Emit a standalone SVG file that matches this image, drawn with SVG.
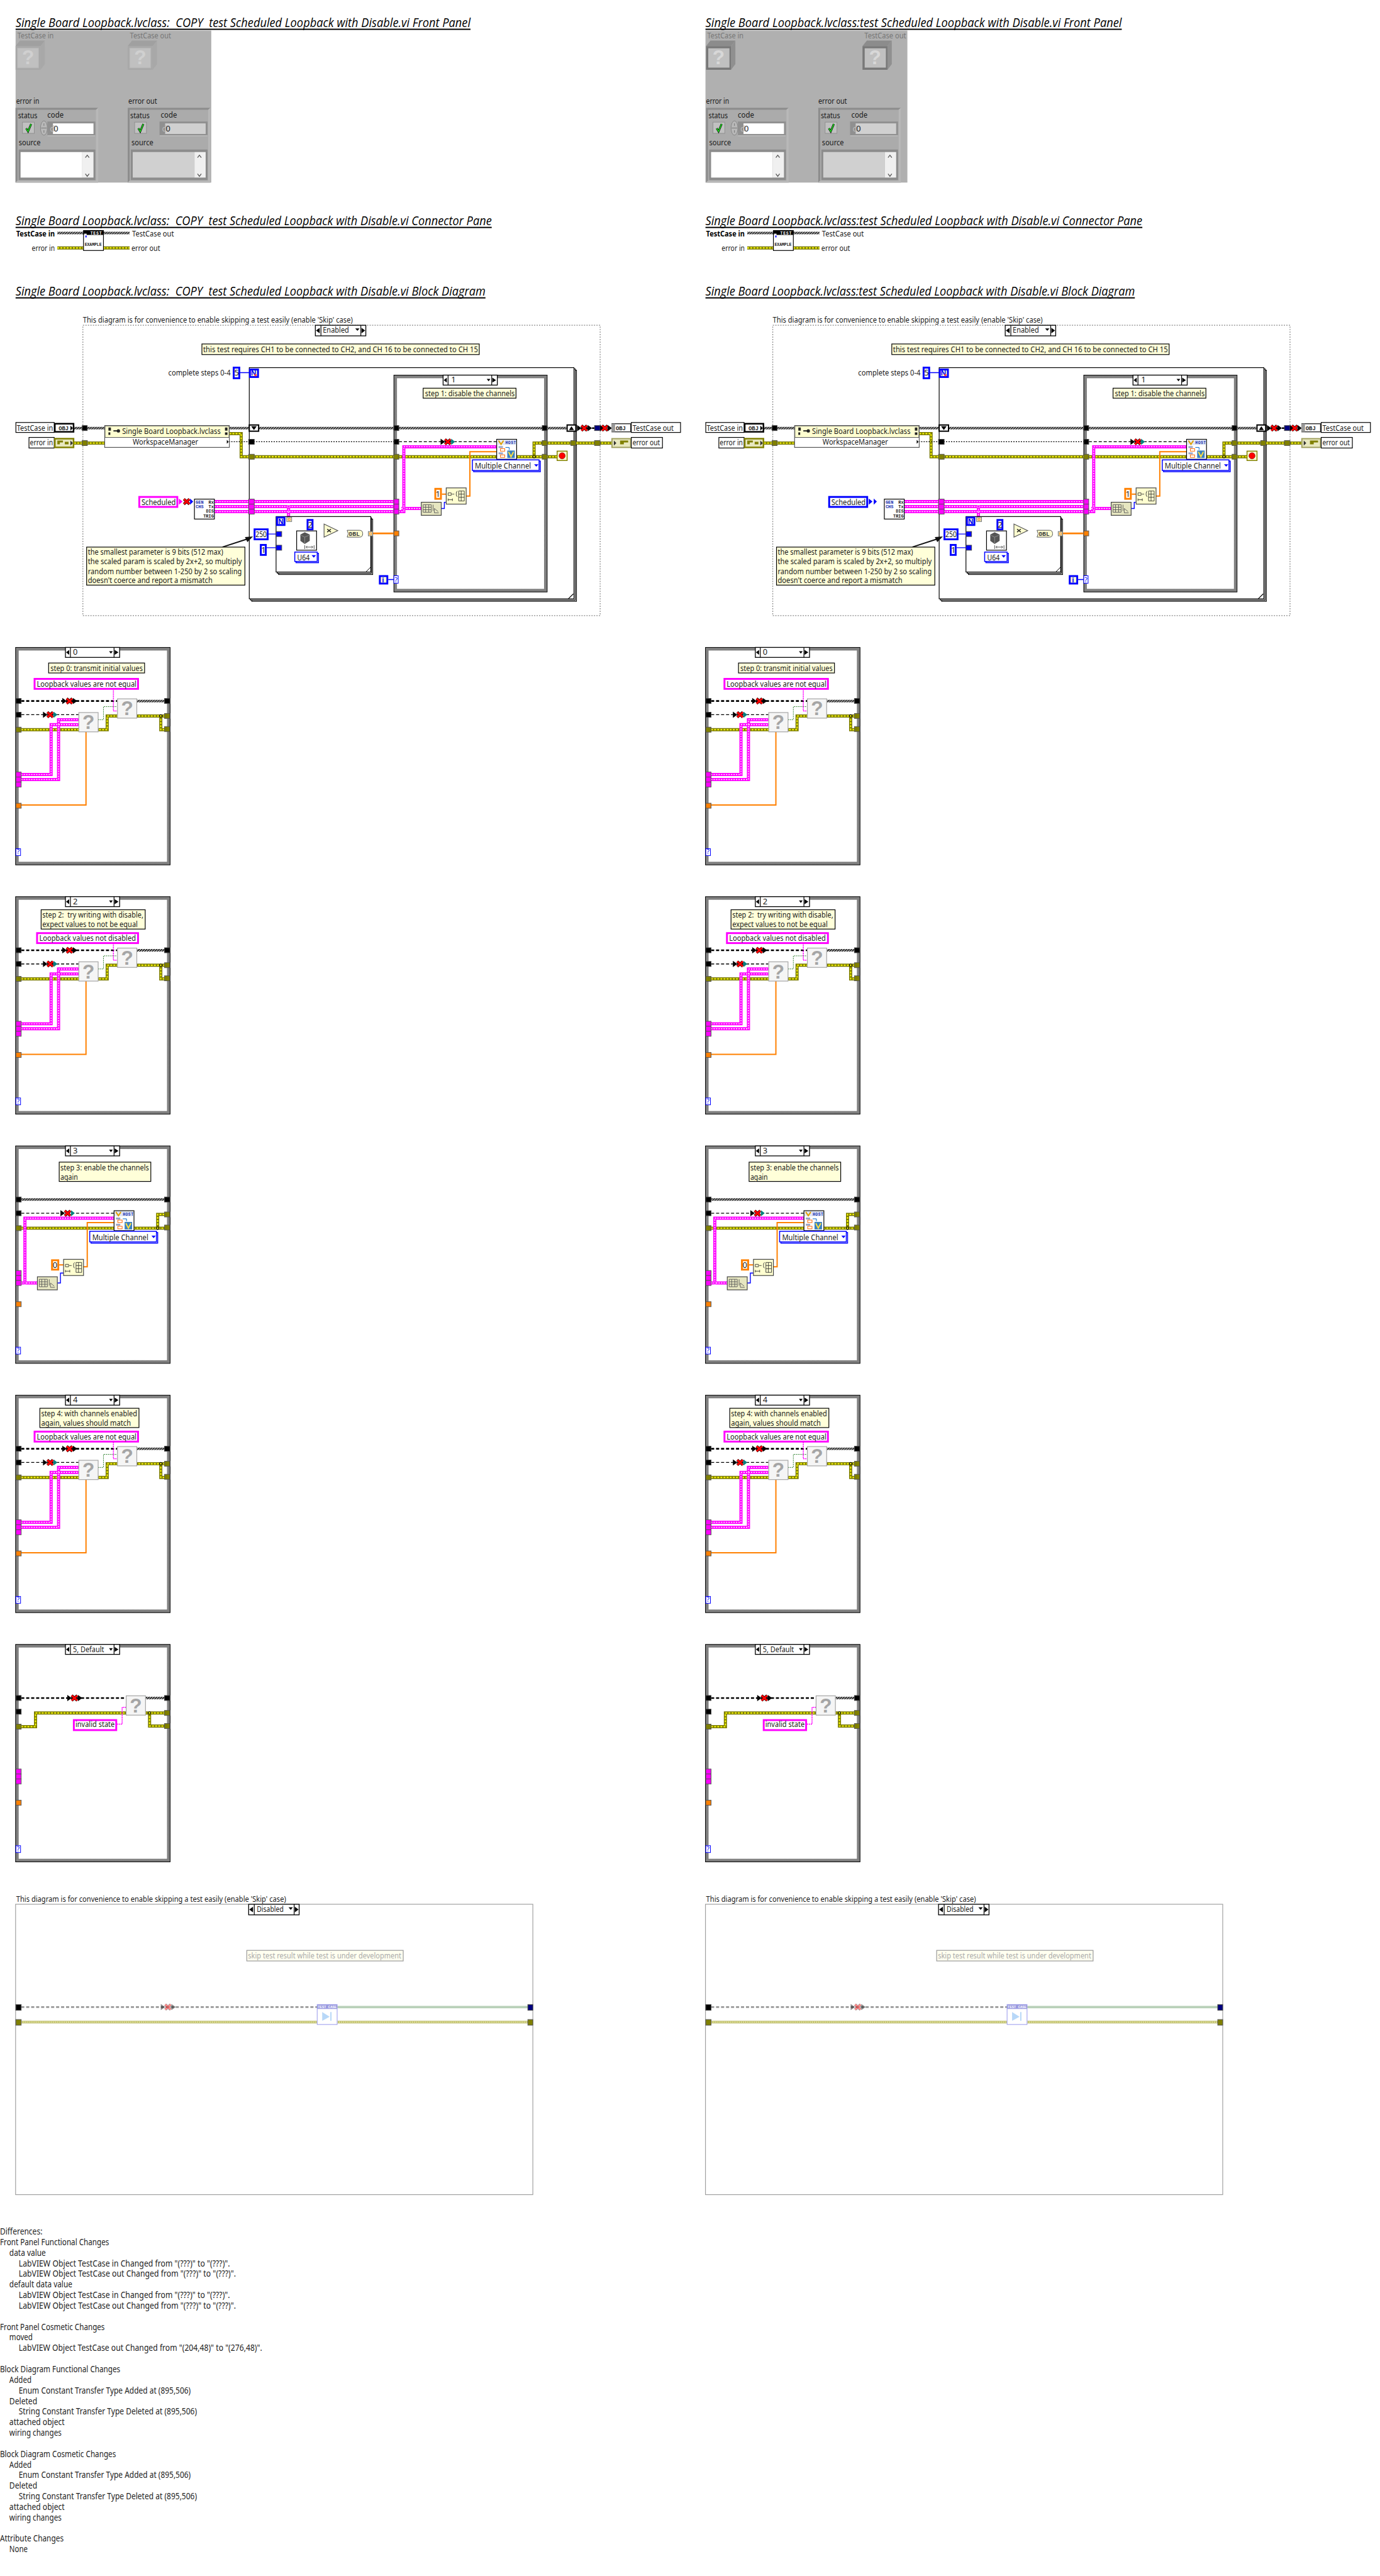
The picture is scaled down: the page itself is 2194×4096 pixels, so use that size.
<svg xmlns="http://www.w3.org/2000/svg" width="2194" height="4096" viewBox="0 0 2194 4096">
<style>
text{font-family:"Noto Sans","Open Sans","Liberation Sans",sans-serif;font-size:13px;fill:#1a1a1a;white-space:pre}
.ti{font-family:"Open Sans","Noto Sans",sans-serif;font-size:20px;font-style:italic;fill:#000}
.d{font-size:14px;fill:#222}
.gl{fill:#777}
.b{font-weight:bold;fill:#000}
.m{font-family:"Liberation Mono",monospace;font-weight:bold;font-size:7px}
.mb{fill:#1a2fb0}
.mw{fill:#fff}
.qm{font-family:"Liberation Sans",sans-serif;font-weight:bold;font-size:32px;fill:#a5a5a5;text-anchor:middle}
path,line{fill:none}
.eo{stroke:#7a7a00;stroke-width:5}
.ei{stroke:#ffff00;stroke-width:2;stroke-dasharray:3 2}
.po{stroke:#ff00ff;stroke-width:5}
.pi{stroke:#fff;stroke-width:1.4;stroke-dasharray:2 2}
.hw{stroke:url(#hatch);stroke-width:4}
.hd{stroke:#000;stroke-width:2.6;stroke-dasharray:5 3}
.rd{stroke:#000;stroke-width:1.3;stroke-dasharray:5 3}
.rt{stroke:#000;stroke-width:1.3;stroke-dasharray:2 2}
.o2{stroke:#ff8000;stroke-width:2}
.o3{stroke:#ff8000;stroke-width:3}
.bl{stroke:#0000ff;stroke-width:1.4}
.s1{stroke:#ff00ff;stroke-width:1.6;stroke-dasharray:2 1}
.g1{stroke:#006400;stroke-width:1;stroke-dasharray:1.5 1.5}
.tk{fill:#000;stroke:#444}
.tol{fill:#808000;stroke:#555}
.tp{fill:#ff00ff;stroke:#555}
.to{fill:#ff8000;stroke:#555}
.tb{fill:#0000ff;stroke:#444}
.tn{fill:#000080;stroke:#444}
.note{fill:#ffffd9;stroke:#000;stroke-width:1.2}
.cb{fill:#fff;stroke:#0000ff;stroke-width:3}
.cp{fill:#fff;stroke:#ff00ff;stroke-width:3}
.cr{fill:#fff;stroke:#ff8000;stroke-width:3}
.en{fill:#fff;stroke:#0000ff;stroke-width:1.5}
.lab{fill:#fff;stroke:#000;stroke-width:1.2}
.sel{fill:#fff;stroke:#000;stroke-width:1.3}
.dv{stroke:#000;stroke-width:1.2}
.k{fill:#000}
.n{fill:#ffffd0;stroke:#444;stroke-width:1.2}
</style>
<defs>
<pattern id="chk" width="2" height="2" patternUnits="userSpaceOnUse"><rect width="2" height="2" fill="#fff"/><rect width="1" height="1" fill="#000"/><rect x="1" y="1" width="1" height="1" fill="#000"/></pattern>
<pattern id="hatch" width="4" height="4" patternUnits="userSpaceOnUse"><rect width="4" height="4" fill="#fff"/><path d="M-1 5L5 -1M-1 1L1 -1M3 5L5 3" style="stroke:#000;stroke-width:1.7"/></pattern>

<g id="ar"><path class="k" d="M0 -5L7 0L0 5Z" style="fill:#000"/></g>
<g id="rx"><path d="M0 -4L9 4M9 -4L0 4" style="stroke:#300;stroke-width:4.4"/><path d="M0 -4L9 4M9 -4L0 4" style="stroke:#f00;stroke-width:2.8"/></g>
<g id="co-bb"><use href="#ar"/><use href="#rx" x="7"/><use href="#ar" x="17"/></g>
<g id="co-bt"><use href="#ar"/><use href="#rx" x="7"/><path d="M17 -5L23 0L17 5Z" style="fill:#008080"/></g>

<g id="sel"><rect class="sel" width="87" height="16"/><path class="dv" d="M8 0V16M78 0V16"/><path d="M6 4L1 8L6 12Z" style="fill:#000"/><path d="M79 4L85 8L79 12Z" style="fill:#000"/><path d="M70 6H76L73 10Z" style="fill:#000"/></g>
<g id="sel2"><rect class="sel" width="81" height="17"/><path class="dv" d="M9 0V17M73 0V17"/><path d="M7 4L1 8.500L7 13Z" style="fill:#000"/><path d="M74 4L80 8.500L74 13Z" style="fill:#000"/><path d="M64 5H71L67.500 9Z" style="fill:#000"/></g>

<g id="cf"><rect x="25" width="248" height="349" fill="url(#chk)" stroke="#000"/><rect x="30" y="5" width="238" height="339" fill="#fff"/></g>
<g id="tn-l"><rect class="tk" x="25.500" y="82" width="8.500" height="8"/><rect class="tk" x="25.500" y="104" width="8.500" height="8"/><rect class="tol" x="25.500" y="128" width="8.500" height="8"/><rect class="tp" x="25.500" y="200" width="8.500" height="8"/><rect class="tp" x="25.500" y="208" width="8.500" height="8"/><rect class="tp" x="25.500" y="216" width="8.500" height="8"/><rect class="to" x="25.500" y="250" width="8.500" height="8"/><rect x="25.500" y="323" width="7.500" height="11" fill="#fff" stroke="#00f"/></g>
<g id="tn-r"><rect class="tk" x="264" y="82" width="8.500" height="8"/><rect class="tol" x="264" y="106" width="8.500" height="8"/><rect class="tol" x="264" y="127" width="8.500" height="8"/></g>
<g id="jn"><circle r="2" fill="#ff0" stroke="#000" stroke-width="1.2"/></g>
<g id="q"><rect x=".5" y=".5" width="31" height="31" fill="#f5f5f5" stroke="#a5a5a5" stroke-width="1.200"/></g>

<g id="wires-q">
<path class="hd" d="M34 86H188"/><path class="hw" d="M220 86H264"/><path class="rd" d="M34 108H126"/>
<path class="eo" d="M34 132H172V110H264M258 110V132H264"/><path class="ei" d="M34 132H172V110H264M258 110V132H264"/>
<path class="po" d="M34 204H82V124H126M34 212H94V116H126"/><path class="pi" d="M34 204H82V124H126M34 212H94V116H126"/>
<path class="o2" d="M34 253H138V135"/><path class="g1" d="M158 116H166V95H188"/><path class="s1" d="M182 60V102H188"/>
</g>
<g id="nodes-q"><use href="#q" x="126" y="104"/><use href="#q" x="188" y="82"/><use href="#jn" x="258" y="110"/><use href="#co-bb" x="100" y="86"/><use href="#co-bt" x="69" y="108"/></g>

<g id="size-n"><rect class="n" width="32" height="21" style="fill:#e6e6c0"/><path d="M3 4H16V16H3ZM3 8H16M3 12H16M7 4V16M12 4V16M19 4V14M21 10V17L28 17M21 10L27 15" style="stroke:#555;stroke-width:.9"/></g>
<g id="repl-n"><rect class="n" width="32" height="26"/><path d="M3 8H8V12H3ZM3 19H10M3 17V21M10 17V21M9 10H13M18 5Q16 5 16 10Q16 14 18 14M20 5H29V21H20ZM20 10H29M20 15H29M24 5V21" style="stroke:#333;stroke-width:.9"/></g>
<g id="host-n"><rect x="0" y="0" width="32" height="32" fill="#fff" stroke="#000" stroke-width="1.200"/><rect x="1" y="1" width="30" height="8" fill="#dfe7f5"/><path d="M3 2L7 8L11 2" style="stroke:#e0a000;stroke-width:2"/><rect x="3" y="11" width="7" height="3" fill="#9aa4c8"/><rect x="6" y="15" width="7" height="4" fill="#fff" stroke="#f60"/><rect x="3" y="21" width="7" height="3" fill="#9aa4c8"/><rect x="6" y="25" width="7" height="4" fill="#fff" stroke="#f60"/><path d="M14 13H20V17" style="stroke:#06c;stroke-width:1"/><rect x="17" y="18" width="12" height="12" fill="#3a80c0"/><path d="M19 20L23 28L27 20" style="stroke:#ffe040;stroke-width:2"/></g>

<g id="wires-main">
<path class="hw" d="M119 687H909"/>
<path class="eo" d="M119 711H168M368 696H387V733H894M857 733V711H981"/><path class="ei" d="M119 711H168M368 696H387V733H894M857 733V711H981"/>
<path class="rt" d="M367 709H632"/><path class="rd" d="M640 709H797"/>
<path class="po" d="M344 805H632M344 813H632M344 821H632M463 813V830"/><path class="pi" d="M344 805H632M344 813H632M344 821H632M463 813V830"/>
<path class="po" d="M640 821H648V717H797M644 816H676"/><path class="pi" d="M640 821H648V717H797M644 816H676"/>
<path class="o3" d="M598 856H632"/><path class="o2" d="M582 857H591M709 793H716M748 796H754V725H797"/>
<path class="bl" d="M385 598H400M431 857H476M428 879H471V865H476M503 842H511V847H520M508 857H520M542 851H547V857H557M623 930H632M708 816H713V806H716"/>
<path class="hw" d="M924 687H926"/>
<path d="M932 687H945M950 687H954M963 687H966" style="stroke:#000;stroke-width:2.500"/>
</g>
<g id="frame-main">
<rect x="133" y="522" width="830" height="466" fill="#fff" stroke="#888" stroke-width="1.200" stroke-dasharray="2 2"/>
<rect x="404" y="594" width="521" height="371" fill="#fff" stroke="#000" stroke-width="1.200"/>
<rect x="402" y="592" width="521" height="371" fill="#fff" stroke="#000" stroke-width="1.200"/>
<rect x="400" y="590" width="521" height="371" fill="#fff" stroke="#000" stroke-width="1.200"/>
<path d="M912 961L920 953" style="stroke:#000;stroke-width:1.200"/>
<rect x="632" y="602" width="246" height="348" fill="url(#chk)" stroke="#000"/><rect x="637" y="607" width="236" height="338" fill="#fff"/>
</g>
<g id="tunnels-main">
<rect class="tk" x="132" y="683" width="8" height="8"/><rect class="tol" x="132" y="707" width="8" height="8"/>
<rect class="tk" x="399" y="705" width="9" height="8"/><rect class="tol" x="399" y="729" width="9" height="8"/>
<rect class="tp" x="399" y="801" width="9" height="8"/><rect class="tp" x="399" y="809" width="9" height="8"/><rect class="tp" x="399" y="817" width="9" height="8"/>
<rect class="tk" x="632" y="683" width="8" height="8"/><rect class="tk" x="632" y="705" width="8" height="8"/><rect class="tol" x="632" y="729" width="8" height="8"/>
<rect class="tp" x="632" y="801" width="8" height="8"/><rect class="tp" x="632" y="809" width="8" height="8"/><rect class="tp" x="632" y="817" width="8" height="8"/><rect class="to" x="632" y="852" width="8" height="8"/>
<rect x="632" y="924" width="7" height="12" fill="#fff" stroke="#00f"/>
<rect class="tk" x="870" y="683" width="8" height="8"/><rect class="tol" x="870" y="707" width="8" height="8"/><rect class="tol" x="870" y="729" width="8" height="8"/>
<rect class="tol" x="916" y="707" width="8" height="8"/><rect class="tn" x="954" y="683" width="9" height="8"/><rect class="tol" x="954" y="707" width="9" height="8"/><rect class="tol" x="132" y="707" width="8" height="8"/>
<rect x="400" y="682" width="15" height="10" fill="#fff" stroke="#000" stroke-width="2"/><path d="M403 684H412L407.500 690Z" style="fill:#000"/>
<rect x="910" y="682" width="14" height="10" fill="#fff" stroke="#000" stroke-width="2"/><path d="M913 690H921L917 684Z" style="fill:#000"/>
<use href="#co-bt" x="707" y="709"/><use href="#co-bb" x="926" y="687"/><use href="#ar" x="963" y="687"/><use href="#rx" x="966" y="687"/><use href="#ar" x="975" y="687"/>
<use href="#jn" x="857" y="733"/>
<rect x="894" y="724" width="16" height="15" fill="#ffffd0" stroke="#808000" stroke-width="1.500"/><circle cx="902" cy="731.500" r="5" fill="#f00" stroke="#600" stroke-width=".6"/>
<circle cx="463" cy="813" r="2.200" fill="#f0f" stroke="#fff" stroke-width=".5"/><circle cx="648" cy="816" r="2.200" fill="#f0f" stroke="#fff" stroke-width=".5"/>
</g>
<g id="inner-loop">
<rect x="447" y="833" width="151" height="89" fill="#fff" stroke="#000" stroke-width="1.200"/>
<rect x="445" y="831" width="151" height="89" fill="#fff" stroke="#000" stroke-width="1.200"/>
<rect x="443" y="829" width="152" height="89" fill="#fff" stroke="#000" stroke-width="1.200"/>
<path d="M587 918L595 910" style="stroke:#000;stroke-width:1"/>
</g>
<g id="inner-nodes">
<rect class="tb" x="443" y="853" width="9" height="8"/><rect class="tb" x="443" y="875" width="9" height="8"/>
<rect x="476" y="852" width="32" height="31" fill="#fff" stroke="#000" stroke-width="1.200"/>
<path d="M482 858L489 854L497 858L497 868L489 873L482 868Z" style="fill:#555"/><path d="M483 859L489 862L496 859M489 862V872" style="stroke:#999;stroke-width:.8"/><path d="M491 878H502M493 876L491 878L493 880M500 876L502 878L500 880M489 875V881M504 875V881" style="stroke:#444;stroke-width:.9"/>
<path d="M520 841L542 851.500L520 862Z" style="fill:#ffffd0;stroke:#555;stroke-width:1.200"/><path d="M525 849L531 854M531 849L525 854" style="stroke:#222;stroke-width:1.400"/>
<rect x="460" y="830" width="8" height="7" fill="#e6e6c0" stroke="#777"/><rect x="462.500" y="832" width="3" height="3" fill="none" stroke="#ff8000" stroke-width=".8"/>
<rect x="591" y="853" width="7" height="7" fill="#e6e6c0" stroke="#777"/><rect x="593" y="855" width="3" height="3" fill="none" stroke="#ff8000" stroke-width=".8"/>
</g>
<g id="wires-3">
<path class="hw" d="M34 86H264"/><path class="rd" d="M34 108H183"/>
<path class="eo" d="M34 132H264M253 132V110H264"/><path class="ei" d="M34 132H264M253 132V110H264"/>
<path class="po" d="M34 220H60M40 220V116H183"/><path class="pi" d="M34 220H60M40 220V116H183"/>
<path class="bl" d="M92 220H97V204H102"/><path class="o2" d="M95 191H102M134 194H140V123H183"/>
</g>
<g id="wires-5">
<path class="hd" d="M34 86H202"/><path class="hw" d="M234 86H264"/>
<path class="eo" d="M34 132H57V110H264M240 110V131H264"/><path class="ei" d="M34 132H57V110H264M240 110V131H264"/>
<path class="s1" d="M188 128H196V101H202"/>
</g>
<g id="frame-dis">
<rect x="25" y="3056" width="830" height="466" fill="#fff" stroke="#a0a0a0" stroke-width="1.200"/>
<path d="M34 3221H509" style="stroke:#999;stroke-width:2.600;stroke-dasharray:5 3"/>
<path d="M541 3221H848" style="stroke:#b8d0b8;stroke-width:4"/>
<path d="M34 3245H509M541 3245H848" style="stroke:#b8b860;stroke-width:4"/><path d="M34 3245H509M541 3245H848" style="stroke:#f4f4c0;stroke-width:1.500;stroke-dasharray:2 1"/>
<use href="#co-bb" x="258" y="3221" opacity=".45"/>
<rect class="tk" x="25.500" y="3217" width="8.500" height="9"/><rect class="tol" x="25.500" y="3241" width="8.500" height="9"/>
<rect class="tn" x="847" y="3217" width="8" height="9"/><rect class="tol" x="847" y="3241" width="8" height="9"/>
<rect x="509" y="3217" width="32" height="32" fill="#fff" stroke="#a8a8f0" stroke-width="1.200"/><rect x="509" y="3217" width="32" height="7" fill="#9a9ae0"/>
<path d="M517 3229L529 3236.500L517 3243Z" style="fill:#b8d8f8"/><rect x="530" y="3229" width="2" height="14" fill="#b8d8f8"/>
</g>

<g id="cl"><rect width="132.500" height="120" fill="#ababab"/><path d="M0 0H132.500L129 3H3V117L0 120Z" style="fill:#8c8c8c"/><path d="M132.500 0V120H0L3 117H129V3Z" style="fill:#b8b8b8"/>
<rect x="11" y="23" width="19" height="18" fill="#c0c0c0" stroke="#909090"/><path d="M17 33L20 38L25 26" style="stroke:#000;stroke-width:3"/><path d="M17 33L20 38L25 26" style="stroke:#20e020;stroke-width:1.600"/>
<rect x="51" y="22" width="77" height="24" fill="#909090"/><rect x="51" y="44" width="77" height="2" fill="#b8b8b8"/>
<rect x="5" y="67" width="123" height="49" fill="#8c8c8c"/><rect x="107" y="71" width="18" height="41" fill="#f0f0f0"/><path d="M112 80L115 76L118 80M112 106L115 110L118 106" style="stroke:#555;stroke-width:1.300"/></g>
<g id="cl-c"><use href="#cl"/><ellipse cx="45.500" cy="32.500" rx="5.500" ry="11.500" fill="#b8b8b8" stroke="#888"/><path d="M41 32.500H50M45.500 25V29M45.500 36V40" style="stroke:#666;stroke-width:.8"/><rect x="60" y="25" width="65" height="17" fill="#fff"/><rect x="8" y="71" width="99" height="41" fill="#fff"/></g>
<g id="cl-i"><use href="#cl"/><rect x="60" y="25" width="65" height="17" fill="#d0d0d0"/><rect x="8" y="71" width="99" height="41" fill="#d0d0d0"/></g>
<g id="ic-lo"><path d="M0 9L7 0H47L40 9Z" style="fill:#a0a0a0"/><path d="M40 9L47 0V38L40 47Z" style="fill:#a8a8a8"/><rect y="9" width="40" height="38" fill="#a8a8a8"/><rect x="3" y="12" width="34" height="32" fill="#c0c0c0" stroke="#b4b4b4"/></g>
<g id="ic-hi"><path d="M0 9L7 0H47L40 9Z" style="fill:#8c8c8c"/><path d="M40 9L47 0V38L40 47Z" style="fill:#909090"/><rect y="9" width="40" height="38" fill="#787878"/><rect x="3.500" y="12.500" width="34" height="31" fill="#c0c0c0"/></g>
<g id="conn-shapes">
<path class="hw" d="M92 374H134M166 374H208"/>
<path class="eo" d="M92 398H134M166 398H208"/><path class="ei" d="M92 398H134M166 398H208"/>
<rect x="134" y="370" width="32" height="32" fill="#fff" stroke="#000" stroke-width="1.200"/><rect x="134" y="370" width="32" height="7" fill="#000"/><rect x="135" y="375" width="4" height="4" fill="#fff"/><rect x="137" y="378" width="2" height="3" fill="#00f"/>
</g>
</defs>

<g transform="scale(0.9908)">
<rect width="2214" height="4134" fill="#fff"/>

<g id="L-front-panel">
<text class="ti" x="25" y="43" textLength="730" lengthAdjust="spacingAndGlyphs">Single Board Loopback.lvclass:  COPY  test Scheduled Loopback with Disable.vi Front Panel</text><rect x="25" y="46" width="730" height="2"/>
<rect x="25" y="49" width="314" height="244" fill="#b0b0b0"/>
<text class="gl" x="28" y="62" textLength="58" lengthAdjust="spacingAndGlyphs">TestCase in</text>
<text class="gl" x="208.500" y="62" textLength="66" lengthAdjust="spacingAndGlyphs">TestCase out</text>
<use href="#ic-lo" x="25" y="65"/><text class="qm" x="45" y="103" style="fill:#d0d0d0">?</text>
<use href="#ic-lo" x="205" y="65"/><text class="qm" x="225" y="103" style="fill:#d0d0d0">?</text>
<text x="26" y="167" textLength="37" lengthAdjust="spacingAndGlyphs">error in</text><text x="206" y="167" textLength="46" lengthAdjust="spacingAndGlyphs">error out</text>
<g transform="translate(25,173)"><use href="#cl-c"/><text x="4" y="17" textLength="31" lengthAdjust="spacingAndGlyphs">status</text><text x="51" y="16" textLength="26" lengthAdjust="spacingAndGlyphs">code</text><text x="55" y="38" class="gl" style="fill:#bbb">d</text><text x="61" y="38">0</text><text x="5" y="60" textLength="35" lengthAdjust="spacingAndGlyphs">source</text></g>
<g transform="translate(205,173)"><use href="#cl-i"/><text x="4" y="17" textLength="31" lengthAdjust="spacingAndGlyphs">status</text><text x="53" y="16" textLength="26" lengthAdjust="spacingAndGlyphs">code</text><text x="55" y="38" class="gl" style="fill:#bbb">d</text><text x="61" y="38">0</text><text x="6" y="60" textLength="35" lengthAdjust="spacingAndGlyphs">source</text></g>
</g>
<g id="R-front-panel">
<text class="ti" x="1132" y="43" textLength="668" lengthAdjust="spacingAndGlyphs">Single Board Loopback.lvclass:test Scheduled Loopback with Disable.vi Front Panel</text><rect x="1132" y="46" width="668" height="2"/>
<rect x="1132" y="49" width="324" height="244" fill="#b0b0b0"/>
<text class="gl" x="1135" y="62" textLength="58" lengthAdjust="spacingAndGlyphs">TestCase in</text>
<text class="gl" x="1387" y="62" textLength="67" lengthAdjust="spacingAndGlyphs">TestCase out</text>
<use href="#ic-hi" x="1133" y="65"/><text class="qm" x="1153" y="103" style="fill:#d8d8d8">?</text>
<use href="#ic-hi" x="1384" y="65"/><text class="qm" x="1404" y="103" style="fill:#d8d8d8">?</text>
<text x="1133" y="167" textLength="37" lengthAdjust="spacingAndGlyphs">error in</text><text x="1313" y="167" textLength="46" lengthAdjust="spacingAndGlyphs">error out</text>
<g transform="translate(1133,173)"><use href="#cl-c"/><text x="4" y="17" textLength="31" lengthAdjust="spacingAndGlyphs">status</text><text x="51" y="16" textLength="26" lengthAdjust="spacingAndGlyphs">code</text><text x="55" y="38" class="gl" style="fill:#bbb">d</text><text x="61" y="38">0</text><text x="5" y="60" textLength="35" lengthAdjust="spacingAndGlyphs">source</text></g>
<g transform="translate(1313,173)"><use href="#cl-i"/><text x="4" y="17" textLength="31" lengthAdjust="spacingAndGlyphs">status</text><text x="53" y="16" textLength="26" lengthAdjust="spacingAndGlyphs">code</text><text x="55" y="38" class="gl" style="fill:#bbb">d</text><text x="61" y="38">0</text><text x="6" y="60" textLength="35" lengthAdjust="spacingAndGlyphs">source</text></g>
</g>

<g id="L-connector-pane">
<text class="ti" x="25" y="361" textLength="764" lengthAdjust="spacingAndGlyphs">Single Board Loopback.lvclass:  COPY  test Scheduled Loopback with Disable.vi Connector Pane</text><rect x="25" y="364" width="764" height="2"/>
<use href="#conn-shapes"/>
<text class="b" x="26" y="379" textLength="62" lengthAdjust="spacingAndGlyphs">TestCase in</text><text x="212" y="379" textLength="67" lengthAdjust="spacingAndGlyphs">TestCase out</text><text x="51" y="403" textLength="37" lengthAdjust="spacingAndGlyphs">error in</text><text x="211" y="403" textLength="46" lengthAdjust="spacingAndGlyphs">error out</text>
<text class="m mw" x="145" y="376" style="font-size:6.500px" textLength="18">TEST</text><text class="m" x="136" y="395" style="font-size:6.500px" textLength="27">EXAMPLE</text>
</g>
<g id="R-connector-pane" transform="translate(1107,0)">
<text class="ti" x="25" y="361" textLength="701" lengthAdjust="spacingAndGlyphs">Single Board Loopback.lvclass:test Scheduled Loopback with Disable.vi Connector Pane</text><rect x="25" y="364" width="701" height="2"/>
<use href="#conn-shapes"/>
<text class="b" x="26" y="379" textLength="62" lengthAdjust="spacingAndGlyphs">TestCase in</text><text x="212" y="379" textLength="67" lengthAdjust="spacingAndGlyphs">TestCase out</text><text x="51" y="403" textLength="37" lengthAdjust="spacingAndGlyphs">error in</text><text x="211" y="403" textLength="46" lengthAdjust="spacingAndGlyphs">error out</text>
<text class="m mw" x="145" y="376" style="font-size:6.500px" textLength="18">TEST</text><text class="m" x="136" y="395" style="font-size:6.500px" textLength="27">EXAMPLE</text>
</g>

<text class="ti" x="25" y="474" textLength="754" lengthAdjust="spacingAndGlyphs">Single Board Loopback.lvclass:  COPY  test Scheduled Loopback with Disable.vi Block Diagram</text><rect x="25" y="477" width="754" height="2"/>
<text class="ti" x="1132" y="474" textLength="689" lengthAdjust="spacingAndGlyphs">Single Board Loopback.lvclass:test Scheduled Loopback with Disable.vi Block Diagram</text><rect x="1132" y="477" width="689" height="2"/>

<g id="L-main">
<use href="#frame-main"/>
<g id="L-main-connectors"><use href="#wires-main"/></g>
<use href="#inner-loop"/><use href="#tunnels-main"/><use href="#inner-nodes"/>
<path d="M357 878L400 864" style="stroke:#111;stroke-width:2"/><path d="M406 861L393 862L397 870Z" style="fill:#111"/>
<text x="133" y="518" textLength="433" lengthAdjust="spacingAndGlyphs">This diagram is for convenience to enable skipping a test easily (enable 'Skip' case)</text>
<g id="L-sel-enabled"><use href="#sel2" x="506" y="522"/><text x="518" y="534" textLength="42" lengthAdjust="spacingAndGlyphs">Enabled</text></g>
<g id="L-note-req"><rect class="note" x="324" y="552" width="445" height="17"/><text x="326" y="565" textLength="441" lengthAdjust="spacingAndGlyphs">this test requires CH1 to be connected to CH2, and CH 16 to be connected to CH 15</text></g>
<g id="L-steps"><text x="270" y="603" textLength="100" lengthAdjust="spacingAndGlyphs">complete steps 0-4</text><rect class="cb" x="375" y="590" width="9" height="17"/><text x="376" y="603">5</text></g>
<g id="L-N"><rect class="cb" x="401" y="593" width="13" height="12" style="fill:#ffffd0"/><text x="402.500" y="603" class="b" style="fill:#00f;font-size:11px">N</text><circle cx="410" cy="602" r="2" fill="#f44"/></g>
<g id="L-term-in"><rect class="lab" x="25.500" y="678" width="61.500" height="16"/><text x="27" y="691" textLength="58" lengthAdjust="spacingAndGlyphs">TestCase in</text><rect x="88" y="680" width="30" height="13" fill="#fff" stroke="#000" stroke-width="2.500"/><text class="m" x="94" y="690" style="font-size:9px">OBJ</text><path d="M113 683L117 687L113 691Z" style="fill:#000"/></g>
<g id="L-term-err"><rect class="lab" x="46.500" y="702" width="40.500" height="17"/><text x="48" y="715" textLength="37" lengthAdjust="spacingAndGlyphs">error in</text><rect x="88" y="704" width="30" height="14" fill="#e8e8c0" stroke="#808000" stroke-width="2.500"/><path d="M92 707H101V710H96V713H92ZM104 709H110V713H104Z" style="fill:#808000"/><path d="M113 707L117 711L113 715Z" style="fill:#333"/></g>
<g id="L-method"><rect x="168" y="683" width="200" height="35" fill="#fff" stroke="#555" stroke-width="1.200"/><rect x="168.500" y="683.500" width="199" height="18.500" fill="#ffffd0" stroke="#555"/><path d="M174 686H178V691H174ZM361 686H365V691H361ZM174 694H177V698H174ZM361 694H365V698H361Z" style="fill:#222"/><circle cx="190" cy="691.500" r="2.600" fill="#222"/><rect x="182" y="690.500" width="7" height="2" fill="#222"/><text x="196" y="696" textLength="158" lengthAdjust="spacingAndGlyphs">Single Board Loopback.lvclass</text><text x="213" y="714" textLength="105" lengthAdjust="spacingAndGlyphs">WorkspaceManager</text><path d="M364 706L367 709L364 712Z" style="fill:#000"/></g>
<g id="L-sched"><rect class="cp" x="223.500" y="797.500" width="61" height="16"/><text x="227" y="810" textLength="55" lengthAdjust="spacingAndGlyphs">Scheduled</text><path d="M287 800L293 805L287 810Z" style="fill:#ff00ff"/><use href="#rx" x="295" y="805"/><path d="M305 800L310 805L305 810Z" style="fill:#00f"/></g>
<g id="L-genchs"><rect x="312" y="801" width="32" height="32" fill="#fff" stroke="#000" stroke-width="1.200"/><text class="m mb" x="314" y="808">GEN</text><text class="m mb" x="314" y="816">CHS</text><text class="m" x="343" y="808" text-anchor="end">Rx</text><text class="m" x="343" y="815" text-anchor="end">Tx</text><text class="m" x="343" y="823" text-anchor="end">DIS</text><text class="m" x="343" y="831" text-anchor="end">TRIG</text></g>
<g id="L-note-scale"><rect class="note" x="139" y="878" width="254" height="61"/><text x="141" y="890" textLength="217" lengthAdjust="spacingAndGlyphs">the smallest parameter is 9 bits (512 max)</text><text x="141" y="905.500" textLength="247" lengthAdjust="spacingAndGlyphs">the scaled param is scaled by 2x+2, so multiply</text><text x="141" y="921" textLength="247" lengthAdjust="spacingAndGlyphs">random number between 1-250 by 2 so scaling</text><text x="141" y="936" textLength="200" lengthAdjust="spacingAndGlyphs">doesn't coerce and report a mismatch</text></g>
<g id="L-c250"><rect class="cb" x="408.500" y="849.500" width="21" height="16"/><text x="410" y="862" textLength="18" lengthAdjust="spacingAndGlyphs">250</text></g>
<g id="L-c1a"><rect class="cb" x="418.500" y="874.500" width="8" height="16"/><text x="419" y="887">1</text></g>
<g id="L-N2"><rect class="cb" x="444.500" y="830.500" width="12" height="12" style="fill:#ffffd0"/><text x="446" y="841" class="b" style="fill:#00f;font-size:11px">N</text></g>
<g id="L-c2"><rect class="cb" x="493.500" y="834.500" width="8" height="15"/><text x="494" y="847">2</text></g>
<g id="L-u64"><rect class="en" x="475" y="888" width="36" height="15"/><rect class="en" x="473" y="886" width="36" height="15"/><text x="477" y="899" textLength="20" lengthAdjust="spacingAndGlyphs">U64</text><path d="M500 891H507L503.500 895Z" style="fill:#00f"/></g>
<g id="L-dbl"><path d="M557 851H577Q582 851 582 856.500Q582 862 577 862H557L559 856.500Z" style="fill:#ffffd0;stroke:#555;stroke-width:1"/><text class="m" x="560" y="860" style="font-size:9.500px;fill:#333">DBL</text></g>
<g id="L-i"><rect class="cb" x="609.500" y="924.500" width="12" height="12" style="fill:#ffffd0"/><text x="613" y="935" class="b" style="fill:#00f;font-size:11px">i</text><text x="633" y="934.500" style="fill:#00f;font-size:11px">?</text></g>
<g id="L-case1-sel"><use href="#sel" x="711" y="602"/><text x="724" y="614">1</text></g>
<g id="L-note1"><rect class="note" x="679" y="623" width="149" height="16"/><text x="682" y="636" textLength="144" lengthAdjust="spacingAndGlyphs">step 1: disable the channels</text></g>
<g id="L-host1"><use href="#host-n" x="797" y="705"/><text class="m mb" x="811" y="713" style="font-size:6.500px" textLength="17">HOST</text></g>
<g id="L-enum1"><rect class="en" x="760" y="740" width="107" height="17"/><rect class="en" x="758" y="738" width="107" height="17"/><text x="762" y="752" textLength="90" lengthAdjust="spacingAndGlyphs">Multiple Channel</text><path d="M857 745H864L860.500 749Z" style="fill:#00f"/></g>
<g id="L-size1"><use href="#size-n" x="676" y="806"/></g>
<g id="L-repl1"><use href="#repl-n" x="716" y="783"/><rect class="cr" x="698.500" y="784.500" width="9" height="16"/><text x="699" y="797">1</text></g>
<g id="L-term-out"><rect x="982" y="680" width="30" height="13" fill="#fff" stroke="#333" stroke-width="1.500"/><rect x="981" y="680" width="6" height="13" fill="#999"/><text class="m" x="988" y="690" style="font-size:9px">OBJ</text><rect class="lab" x="1013" y="678" width="79" height="16"/><text x="1015" y="691" textLength="66" lengthAdjust="spacingAndGlyphs">TestCase out</text></g>
<g id="L-term-eo"><rect x="982" y="704" width="30" height="14" fill="#e8e8c0" stroke="#a0a060" stroke-width="2"/><path d="M985 707L989 711L985 715Z" style="fill:#333"/><path d="M995 707H1008V710H1001V713H995Z" style="fill:#808000"/><rect class="lab" x="1013" y="702" width="50" height="17"/><text x="1015" y="715" textLength="44" lengthAdjust="spacingAndGlyphs">error out</text></g>
</g>

<g id="R-main" transform="translate(1107,0)">
<use href="#frame-main"/>
<g id="R-main-connectors"><use href="#wires-main"/></g>
<use href="#inner-loop"/><use href="#tunnels-main"/><use href="#inner-nodes"/>
<path d="M357 878L400 864" style="stroke:#111;stroke-width:2"/><path d="M406 861L393 862L397 870Z" style="fill:#111"/>
<text x="133" y="518" textLength="433" lengthAdjust="spacingAndGlyphs">This diagram is for convenience to enable skipping a test easily (enable 'Skip' case)</text>
<g id="R-sel-enabled"><use href="#sel2" x="506" y="522"/><text x="518" y="534" textLength="42" lengthAdjust="spacingAndGlyphs">Enabled</text></g>
<g id="R-note-req"><rect class="note" x="324" y="552" width="445" height="17"/><text x="326" y="565" textLength="441" lengthAdjust="spacingAndGlyphs">this test requires CH1 to be connected to CH2, and CH 16 to be connected to CH 15</text></g>
<g id="R-steps"><text x="270" y="603" textLength="100" lengthAdjust="spacingAndGlyphs">complete steps 0-4</text><rect class="cb" x="375" y="590" width="9" height="17"/><text x="376" y="603">5</text></g>
<g id="R-N"><rect class="cb" x="401" y="593" width="13" height="12" style="fill:#ffffd0"/><text x="402.500" y="603" class="b" style="fill:#00f;font-size:11px">N</text><circle cx="410" cy="602" r="2" fill="#f44"/></g>
<g id="R-term-in"><rect class="lab" x="25.500" y="678" width="61.500" height="16"/><text x="27" y="691" textLength="58" lengthAdjust="spacingAndGlyphs">TestCase in</text><rect x="88" y="680" width="30" height="13" fill="#fff" stroke="#000" stroke-width="2.500"/><text class="m" x="94" y="690" style="font-size:9px">OBJ</text><path d="M113 683L117 687L113 691Z" style="fill:#000"/></g>
<g id="R-term-err"><rect class="lab" x="46.500" y="702" width="40.500" height="17"/><text x="48" y="715" textLength="37" lengthAdjust="spacingAndGlyphs">error in</text><rect x="88" y="704" width="30" height="14" fill="#e8e8c0" stroke="#808000" stroke-width="2.500"/><path d="M92 707H101V710H96V713H92ZM104 709H110V713H104Z" style="fill:#808000"/><path d="M113 707L117 711L113 715Z" style="fill:#333"/></g>
<g id="R-method"><rect x="168" y="683" width="200" height="35" fill="#fff" stroke="#555" stroke-width="1.200"/><rect x="168.500" y="683.500" width="199" height="18.500" fill="#ffffd0" stroke="#555"/><path d="M174 686H178V691H174ZM361 686H365V691H361ZM174 694H177V698H174ZM361 694H365V698H361Z" style="fill:#222"/><circle cx="190" cy="691.500" r="2.600" fill="#222"/><rect x="182" y="690.500" width="7" height="2" fill="#222"/><text x="196" y="696" textLength="158" lengthAdjust="spacingAndGlyphs">Single Board Loopback.lvclass</text><text x="213" y="714" textLength="105" lengthAdjust="spacingAndGlyphs">WorkspaceManager</text><path d="M364 706L367 709L364 712Z" style="fill:#000"/></g>
<g id="R-sched"><rect class="cp" x="223.500" y="797.500" width="61" height="16" style="stroke:#0000ff"/><text x="227" y="810" textLength="55" lengthAdjust="spacingAndGlyphs">Scheduled</text><path d="M287 800L293 805L287 810Z" style="fill:#0000ff"/><path d="M295 800L300 805L295 810Z" style="fill:#0000ff"/></g>
<g id="R-genchs"><rect x="312" y="801" width="32" height="32" fill="#fff" stroke="#000" stroke-width="1.200"/><text class="m mb" x="314" y="808">GEN</text><text class="m mb" x="314" y="816">CHS</text><text class="m" x="343" y="808" text-anchor="end">Rx</text><text class="m" x="343" y="815" text-anchor="end">Tx</text><text class="m" x="343" y="823" text-anchor="end">DIS</text><text class="m" x="343" y="831" text-anchor="end">TRIG</text></g>
<g id="R-note-scale"><rect class="note" x="139" y="878" width="254" height="61"/><text x="141" y="890" textLength="217" lengthAdjust="spacingAndGlyphs">the smallest parameter is 9 bits (512 max)</text><text x="141" y="905.500" textLength="247" lengthAdjust="spacingAndGlyphs">the scaled param is scaled by 2x+2, so multiply</text><text x="141" y="921" textLength="247" lengthAdjust="spacingAndGlyphs">random number between 1-250 by 2 so scaling</text><text x="141" y="936" textLength="200" lengthAdjust="spacingAndGlyphs">doesn't coerce and report a mismatch</text></g>
<g id="R-c250"><rect class="cb" x="408.500" y="849.500" width="21" height="16"/><text x="410" y="862" textLength="18" lengthAdjust="spacingAndGlyphs">250</text></g>
<g id="R-c1a"><rect class="cb" x="418.500" y="874.500" width="8" height="16"/><text x="419" y="887">1</text></g>
<g id="R-N2"><rect class="cb" x="444.500" y="830.500" width="12" height="12" style="fill:#ffffd0"/><text x="446" y="841" class="b" style="fill:#00f;font-size:11px">N</text></g>
<g id="R-c2"><rect class="cb" x="493.500" y="834.500" width="8" height="15"/><text x="494" y="847">2</text></g>
<g id="R-u64"><rect class="en" x="475" y="888" width="36" height="15"/><rect class="en" x="473" y="886" width="36" height="15"/><text x="477" y="899" textLength="20" lengthAdjust="spacingAndGlyphs">U64</text><path d="M500 891H507L503.500 895Z" style="fill:#00f"/></g>
<g id="R-dbl"><path d="M557 851H577Q582 851 582 856.500Q582 862 577 862H557L559 856.500Z" style="fill:#ffffd0;stroke:#555;stroke-width:1"/><text class="m" x="560" y="860" style="font-size:9.500px;fill:#333">DBL</text></g>
<g id="R-i"><rect class="cb" x="609.500" y="924.500" width="12" height="12" style="fill:#ffffd0"/><text x="613" y="935" class="b" style="fill:#00f;font-size:11px">i</text><text x="633" y="934.500" style="fill:#00f;font-size:11px">?</text></g>
<g id="R-case1-sel"><use href="#sel" x="711" y="602"/><text x="724" y="614">1</text></g>
<g id="R-note1"><rect class="note" x="679" y="623" width="149" height="16"/><text x="682" y="636" textLength="144" lengthAdjust="spacingAndGlyphs">step 1: disable the channels</text></g>
<g id="R-host1"><use href="#host-n" x="797" y="705"/><text class="m mb" x="811" y="713" style="font-size:6.500px" textLength="17">HOST</text></g>
<g id="R-enum1"><rect class="en" x="760" y="740" width="107" height="17"/><rect class="en" x="758" y="738" width="107" height="17"/><text x="762" y="752" textLength="90" lengthAdjust="spacingAndGlyphs">Multiple Channel</text><path d="M857 745H864L860.500 749Z" style="fill:#00f"/></g>
<g id="R-size1"><use href="#size-n" x="676" y="806"/></g>
<g id="R-repl1"><use href="#repl-n" x="716" y="783"/><rect class="cr" x="698.500" y="784.500" width="9" height="16"/><text x="699" y="797">1</text></g>
<g id="R-term-out"><rect x="982" y="680" width="30" height="13" fill="#fff" stroke="#333" stroke-width="1.500"/><rect x="981" y="680" width="6" height="13" fill="#999"/><text class="m" x="988" y="690" style="font-size:9px">OBJ</text><rect class="lab" x="1013" y="678" width="79" height="16"/><text x="1015" y="691" textLength="66" lengthAdjust="spacingAndGlyphs">TestCase out</text></g>
<g id="R-term-eo"><rect x="982" y="704" width="30" height="14" fill="#e8e8c0" stroke="#a0a060" stroke-width="2"/><path d="M985 707L989 711L985 715Z" style="fill:#333"/><path d="M995 707H1008V710H1001V713H995Z" style="fill:#808000"/><rect class="lab" x="1013" y="702" width="50" height="17"/><text x="1015" y="715" textLength="44" lengthAdjust="spacingAndGlyphs">error out</text></g>
</g>

<g id="L-case0" transform="translate(0,1039)"><use href="#cf"/><g id="L-case0-connectors"><use href="#wires-q"/></g><use href="#nodes-q"/><use href="#tn-l"/><use href="#tn-r"/><text class="qm" x="142" y="131">?</text><text class="qm" x="204" y="109">?</text><text x="27" y="332" style="fill:#00f;font-size:10px">?</text><use href="#sel" x="105"/><text x="117" y="12">0</text>
<rect class="note" x="78" y="25" width="154" height="16"/><text x="81" y="38" textLength="148" lengthAdjust="spacingAndGlyphs">step 0: transmit initial values</text>
<rect class="cp" x="55.500" y="50.500" width="166" height="16"/><text x="59" y="63" textLength="160" lengthAdjust="spacingAndGlyphs">Loopback values are not equal</text></g>
<g id="R-case0" transform="translate(1107,1039)"><use href="#cf"/><g id="R-case0-connectors"><use href="#wires-q"/></g><use href="#nodes-q"/><use href="#tn-l"/><use href="#tn-r"/><text class="qm" x="142" y="131">?</text><text class="qm" x="204" y="109">?</text><text x="27" y="332" style="fill:#00f;font-size:10px">?</text><use href="#sel" x="105"/><text x="117" y="12">0</text>
<rect class="note" x="78" y="25" width="154" height="16"/><text x="81" y="38" textLength="148" lengthAdjust="spacingAndGlyphs">step 0: transmit initial values</text>
<rect class="cp" x="55.500" y="50.500" width="166" height="16"/><text x="59" y="63" textLength="160" lengthAdjust="spacingAndGlyphs">Loopback values are not equal</text></g>

<g id="L-case2" transform="translate(0,1439)"><use href="#cf"/><g id="L-case2-connectors"><use href="#wires-q"/></g><use href="#nodes-q"/><use href="#tn-l"/><use href="#tn-r"/><text class="qm" x="142" y="131">?</text><text class="qm" x="204" y="109">?</text><text x="27" y="332" style="fill:#00f;font-size:10px">?</text><use href="#sel" x="105"/><text x="117" y="12">2</text>
<rect class="note" x="66" y="21" width="167" height="31"/><text x="68" y="34" textLength="162" lengthAdjust="spacingAndGlyphs">step 2:  try writing with disable,</text><text x="68" y="49" textLength="153" lengthAdjust="spacingAndGlyphs">expect values to not be equal</text>
<rect class="cp" x="59.500" y="58.500" width="162" height="16"/><text x="63" y="71" textLength="155" lengthAdjust="spacingAndGlyphs">Loopback values not disabled</text></g>
<g id="R-case2" transform="translate(1107,1439)"><use href="#cf"/><g id="R-case2-connectors"><use href="#wires-q"/></g><use href="#nodes-q"/><use href="#tn-l"/><use href="#tn-r"/><text class="qm" x="142" y="131">?</text><text class="qm" x="204" y="109">?</text><text x="27" y="332" style="fill:#00f;font-size:10px">?</text><use href="#sel" x="105"/><text x="117" y="12">2</text>
<rect class="note" x="66" y="21" width="167" height="31"/><text x="68" y="34" textLength="162" lengthAdjust="spacingAndGlyphs">step 2:  try writing with disable,</text><text x="68" y="49" textLength="153" lengthAdjust="spacingAndGlyphs">expect values to not be equal</text>
<rect class="cp" x="59.500" y="58.500" width="162" height="16"/><text x="63" y="71" textLength="155" lengthAdjust="spacingAndGlyphs">Loopback values not disabled</text></g>

<g id="L-case3" transform="translate(0,1839)"><use href="#cf"/><g id="L-case3-connectors"><use href="#wires-3"/></g><use href="#co-bt" x="97" y="108"/><use href="#jn" x="253" y="132"/><circle cx="40" cy="220" r="2.200" fill="#f0f" stroke="#fff" stroke-width=".5"/><use href="#size-n" x="60" y="210"/><use href="#repl-n" x="102" y="182"/><use href="#host-n" x="183" y="104"/><text class="m mb" x="197" y="112" style="font-size:6.500px" textLength="17">HOST</text><use href="#tn-l"/><use href="#tn-r"/><text x="27" y="332" style="fill:#00f;font-size:10px">?</text><use href="#sel" x="105"/><text x="117" y="12">3</text>
<rect class="note" x="95" y="26" width="147" height="31"/><text x="97" y="39" textLength="142" lengthAdjust="spacingAndGlyphs">step 3: enable the channels</text><text x="97" y="54" textLength="28" lengthAdjust="spacingAndGlyphs">again</text>
<rect class="cr" x="83.500" y="183.500" width="10" height="15"/><text x="84.500" y="196">0</text>
<rect class="en" x="146" y="139" width="107" height="17"/><rect class="en" x="144" y="137" width="107" height="17"/><text x="148" y="151" textLength="90" lengthAdjust="spacingAndGlyphs">Multiple Channel</text><path d="M243 144H250L246.500 148Z" style="fill:#00f"/></g>
<g id="R-case3" transform="translate(1107,1839)"><use href="#cf"/><g id="R-case3-connectors"><use href="#wires-3"/></g><use href="#co-bt" x="97" y="108"/><use href="#jn" x="253" y="132"/><circle cx="40" cy="220" r="2.200" fill="#f0f" stroke="#fff" stroke-width=".5"/><use href="#size-n" x="60" y="210"/><use href="#repl-n" x="102" y="182"/><use href="#host-n" x="183" y="104"/><text class="m mb" x="197" y="112" style="font-size:6.500px" textLength="17">HOST</text><use href="#tn-l"/><use href="#tn-r"/><text x="27" y="332" style="fill:#00f;font-size:10px">?</text><use href="#sel" x="105"/><text x="117" y="12">3</text>
<rect class="note" x="95" y="26" width="147" height="31"/><text x="97" y="39" textLength="142" lengthAdjust="spacingAndGlyphs">step 3: enable the channels</text><text x="97" y="54" textLength="28" lengthAdjust="spacingAndGlyphs">again</text>
<rect class="cr" x="83.500" y="183.500" width="10" height="15"/><text x="84.500" y="196">0</text>
<rect class="en" x="146" y="139" width="107" height="17"/><rect class="en" x="144" y="137" width="107" height="17"/><text x="148" y="151" textLength="90" lengthAdjust="spacingAndGlyphs">Multiple Channel</text><path d="M243 144H250L246.500 148Z" style="fill:#00f"/></g>

<g id="L-case4" transform="translate(0,2239)"><use href="#cf"/><g id="L-case4-connectors"><use href="#wires-q"/></g><use href="#nodes-q"/><use href="#tn-l"/><use href="#tn-r"/><text class="qm" x="142" y="131">?</text><text class="qm" x="204" y="109">?</text><text x="27" y="332" style="fill:#00f;font-size:10px">?</text><use href="#sel" x="105"/><text x="117" y="12">4</text>
<rect class="note" x="64" y="21" width="159" height="31"/><text x="66" y="34" textLength="154" lengthAdjust="spacingAndGlyphs">step 4: with channels enabled</text><text x="66" y="49" textLength="144" lengthAdjust="spacingAndGlyphs">again, values should match</text>
<rect class="cp" x="55.500" y="58.500" width="166" height="16"/><text x="59" y="71" textLength="160" lengthAdjust="spacingAndGlyphs">Loopback values are not equal</text></g>
<g id="R-case4" transform="translate(1107,2239)"><use href="#cf"/><g id="R-case4-connectors"><use href="#wires-q"/></g><use href="#nodes-q"/><use href="#tn-l"/><use href="#tn-r"/><text class="qm" x="142" y="131">?</text><text class="qm" x="204" y="109">?</text><text x="27" y="332" style="fill:#00f;font-size:10px">?</text><use href="#sel" x="105"/><text x="117" y="12">4</text>
<rect class="note" x="64" y="21" width="159" height="31"/><text x="66" y="34" textLength="154" lengthAdjust="spacingAndGlyphs">step 4: with channels enabled</text><text x="66" y="49" textLength="144" lengthAdjust="spacingAndGlyphs">again, values should match</text>
<rect class="cp" x="55.500" y="58.500" width="166" height="16"/><text x="59" y="71" textLength="160" lengthAdjust="spacingAndGlyphs">Loopback values are not equal</text></g>

<g id="L-case5" transform="translate(0,2639)"><use href="#cf"/><g id="L-case5-connectors"><use href="#wires-5"/></g><use href="#q" x="202" y="82"/><use href="#jn" x="240" y="110"/><use href="#co-bb" x="108" y="86"/><use href="#tn-l"/><use href="#tn-r"/><text class="qm" x="218" y="109">?</text><text x="27" y="332" style="fill:#00f;font-size:10px">?</text><use href="#sel" x="105"/><text x="117" y="12" textLength="50" lengthAdjust="spacingAndGlyphs">5, Default</text>
<rect class="cp" x="118.500" y="121.500" width="68" height="16"/><text x="121" y="133" textLength="63" lengthAdjust="spacingAndGlyphs">invalid state</text></g>
<g id="R-case5" transform="translate(1107,2639)"><use href="#cf"/><g id="R-case5-connectors"><use href="#wires-5"/></g><use href="#q" x="202" y="82"/><use href="#jn" x="240" y="110"/><use href="#co-bb" x="108" y="86"/><use href="#tn-l"/><use href="#tn-r"/><text class="qm" x="218" y="109">?</text><text x="27" y="332" style="fill:#00f;font-size:10px">?</text><use href="#sel" x="105"/><text x="117" y="12" textLength="50" lengthAdjust="spacingAndGlyphs">5, Default</text>
<rect class="cp" x="118.500" y="121.500" width="68" height="16"/><text x="121" y="133" textLength="63" lengthAdjust="spacingAndGlyphs">invalid state</text></g>

<g id="L-disabled"><use href="#frame-dis"/><text x="26" y="3052" textLength="433" lengthAdjust="spacingAndGlyphs">This diagram is for convenience to enable skipping a test easily (enable 'Skip' case)</text><use href="#sel2" x="399" y="3056"/><text x="412" y="3068" textLength="43" lengthAdjust="spacingAndGlyphs">Disabled</text><rect x="396" y="3130" width="251" height="17" fill="#fffff0" stroke="#999" stroke-width="1.200"/><text x="398" y="3143" textLength="246" lengthAdjust="spacingAndGlyphs" style="fill:#aaa">skip test result while test is under development</text><text class="m mw" x="510" y="3223" style="font-size:5.500px" textLength="30">TEST CASE</text></g>
<g id="R-disabled" transform="translate(1107,0)"><use href="#frame-dis"/><text x="26" y="3052" textLength="433" lengthAdjust="spacingAndGlyphs">This diagram is for convenience to enable skipping a test easily (enable 'Skip' case)</text><use href="#sel2" x="399" y="3056"/><text x="412" y="3068" textLength="43" lengthAdjust="spacingAndGlyphs">Disabled</text><rect x="396" y="3130" width="251" height="17" fill="#fffff0" stroke="#999" stroke-width="1.200"/><text x="398" y="3143" textLength="246" lengthAdjust="spacingAndGlyphs" style="fill:#aaa">skip test result while test is under development</text><text class="m mw" x="510" y="3223" style="font-size:5.500px" textLength="30">TEST CASE</text></g>

<g id="differences">
<text class="d" x="0" y="3586" textLength="68" lengthAdjust="spacingAndGlyphs">Differences:</text>
<text class="d" x="0" y="3603" textLength="175" lengthAdjust="spacingAndGlyphs">Front Panel Functional Changes</text>
<text class="d" x="15" y="3620" textLength="58.500" lengthAdjust="spacingAndGlyphs">data value</text>
<text class="d" x="30" y="3637" textLength="339" lengthAdjust="spacingAndGlyphs">LabVIEW Object TestCase in Changed from "(???)" to "(???)".</text>
<text class="d" x="30" y="3654" textLength="348.500" lengthAdjust="spacingAndGlyphs">LabVIEW Object TestCase out Changed from "(???)" to "(???)".</text>
<text class="d" x="15" y="3671" textLength="101" lengthAdjust="spacingAndGlyphs">default data value</text>
<text class="d" x="30" y="3688" textLength="339" lengthAdjust="spacingAndGlyphs">LabVIEW Object TestCase in Changed from "(???)" to "(???)".</text>
<text class="d" x="30" y="3705" textLength="348.500" lengthAdjust="spacingAndGlyphs">LabVIEW Object TestCase out Changed from "(???)" to "(???)".</text>
<text class="d" x="0" y="3739" textLength="168" lengthAdjust="spacingAndGlyphs">Front Panel Cosmetic Changes</text>
<text class="d" x="15" y="3756" textLength="37.400" lengthAdjust="spacingAndGlyphs">moved</text>
<text class="d" x="30" y="3773" textLength="390.600" lengthAdjust="spacingAndGlyphs">LabVIEW Object TestCase out Changed from "(204,48)" to "(276,48)".</text>
<text class="d" x="0" y="3807" textLength="193" lengthAdjust="spacingAndGlyphs">Block Diagram Functional Changes</text>
<text class="d" x="15" y="3824" textLength="35.500" lengthAdjust="spacingAndGlyphs">Added</text>
<text class="d" x="30" y="3841" textLength="276" lengthAdjust="spacingAndGlyphs">Enum Constant Transfer Type Added at (895,506)</text>
<text class="d" x="15" y="3858" textLength="44.700" lengthAdjust="spacingAndGlyphs">Deleted</text>
<text class="d" x="30" y="3875" textLength="286" lengthAdjust="spacingAndGlyphs">String Constant Transfer Type Deleted at (895,506)</text>
<text class="d" x="15" y="3892" textLength="88.700" lengthAdjust="spacingAndGlyphs">attached object</text>
<text class="d" x="15" y="3909" textLength="83.700" lengthAdjust="spacingAndGlyphs">wiring changes</text>
<text class="d" x="0" y="3943" textLength="186" lengthAdjust="spacingAndGlyphs">Block Diagram Cosmetic Changes</text>
<text class="d" x="15" y="3960" textLength="35.500" lengthAdjust="spacingAndGlyphs">Added</text>
<text class="d" x="30" y="3977" textLength="276" lengthAdjust="spacingAndGlyphs">Enum Constant Transfer Type Added at (895,506)</text>
<text class="d" x="15" y="3994" textLength="44.700" lengthAdjust="spacingAndGlyphs">Deleted</text>
<text class="d" x="30" y="4011" textLength="286" lengthAdjust="spacingAndGlyphs">String Constant Transfer Type Deleted at (895,506)</text>
<text class="d" x="15" y="4028" textLength="88.700" lengthAdjust="spacingAndGlyphs">attached object</text>
<text class="d" x="15" y="4045" textLength="83.700" lengthAdjust="spacingAndGlyphs">wiring changes</text>
<text class="d" x="0" y="4079" textLength="102" lengthAdjust="spacingAndGlyphs">Attribute Changes</text>
<text class="d" x="15" y="4096" textLength="29.400" lengthAdjust="spacingAndGlyphs">None</text>
</g>
</g>
</svg>
